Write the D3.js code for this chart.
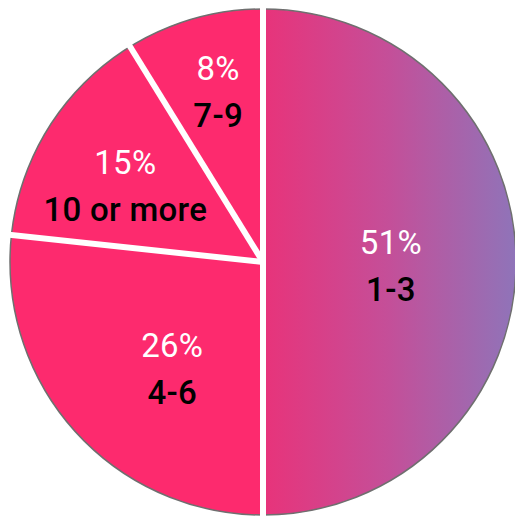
<!DOCTYPE html>
<html>
<head>
<meta charset="utf-8">
<script src="https://cdn.jsdelivr.net/npm/d3@7"></script>
<style>
  html, body { margin: 0; padding: 0; background: #fff; }
  svg { display: block; }
</style>
</head>
<body>
<div id="chart"></div>
<script>
// dados
const categorias = ["1-3", "4-6", "10 or more", "7-9"];
const fatias = [50, 26.7, 14.5, 8.8];          // tamanho desenhado de cada fatia
const rotulos = ["51%", "26%", "15%", "8%"];    // texto das percentagens

const width = 515;
const height = 517;
const cx = 263, cy = 262;
const radius = 253;

// raio e ajuste de ângulo (graus) de cada rótulo
const labelRadius = [128, 141, 157, 175];
const labelShift = [2, -8, -3.5, 1];

const dados = categorias.map((c, i) => ({ cat: c, value: fatias[i], label: rotulos[i] }));

const svg = d3.select("#chart").append("svg")
    .attr("width", width)
    .attr("height", height);

const defs = svg.append("defs");
// gradiente horizontal da fatia "1-3" (coordenadas do grupo centrado)
const grad = defs.append("linearGradient")
    .attr("id", "grad13")
    .attr("gradientUnits", "userSpaceOnUse")
    .attr("x1", 0).attr("y1", 0)
    .attr("x2", radius).attr("y2", 0);
grad.append("stop").attr("offset", "0%").attr("stop-color", "#e8337a");
grad.append("stop").attr("offset", "50%").attr("stop-color", "#c44f99");
grad.append("stop").attr("offset", "100%").attr("stop-color", "#8f74b9");

const g = svg.append("g")
    .attr("transform", `translate(${cx}, ${cy})`);

const pie = d3.pie()
    .value(d => d.value)
    .sort(null);

const arc = d3.arc()
    .innerRadius(0)
    .outerRadius(radius);

const arcs = pie(dados);

g.selectAll(".fatia")
    .data(arcs)
    .enter().append("path")
    .attr("class", "fatia")
    .attr("d", arc)
    .attr("fill", (d, i) => i === 0 ? "url(#grad13)" : "#fd2a6e");

// contorno cinza
g.append("circle")
    .attr("r", radius)
    .attr("fill", "none")
    .attr("stroke", "#6f6f6f")
    .attr("stroke-width", 1.5);

// linhas brancas entre as fatias
g.selectAll(".sep")
    .data(arcs)
    .enter().append("line")
    .attr("class", "sep")
    .attr("x1", 0).attr("y1", 0)
    .attr("x2", d => d3.pointRadial(d.startAngle, radius + 12)[0])
    .attr("y2", d => d3.pointRadial(d.startAngle, radius + 12)[1])
    .attr("stroke", "#fff")
    .attr("stroke-width", 6);

// rótulos
const rot = g.selectAll(".rotulo")
    .data(arcs)
    .enter().append("g")
    .attr("class", "rotulo")
    .attr("transform", (d, i) => {
        const a = (d.startAngle + d.endAngle) / 2 + labelShift[i] * Math.PI / 180;
        const p = d3.pointRadial(a, labelRadius[i]);
        return `translate(${p[0]}, ${p[1]})`;
    });

rot.append("text")
    .attr("text-anchor", "middle")
    .attr("y", -24)
    .attr("dy", "0.35em")
    .style("font-family", "Roboto, 'DejaVu Sans', sans-serif")
    .style("font-size", "33px")
    .style("letter-spacing", "0.3px")
    .style("fill", "#fff")
    .text(d => d.data.label);

rot.append("text")
    .attr("text-anchor", "middle")
    .attr("y", 23)
    .attr("dy", "0.35em")
    .style("font-family", "Roboto, 'DejaVu Sans', sans-serif")
    .style("font-size", "33px")
    .style("font-weight", 500)
    .style("letter-spacing", "0.3px")
    .style("fill", "#000")
    .text(d => d.data.cat);
</script>
</body>
</html>
